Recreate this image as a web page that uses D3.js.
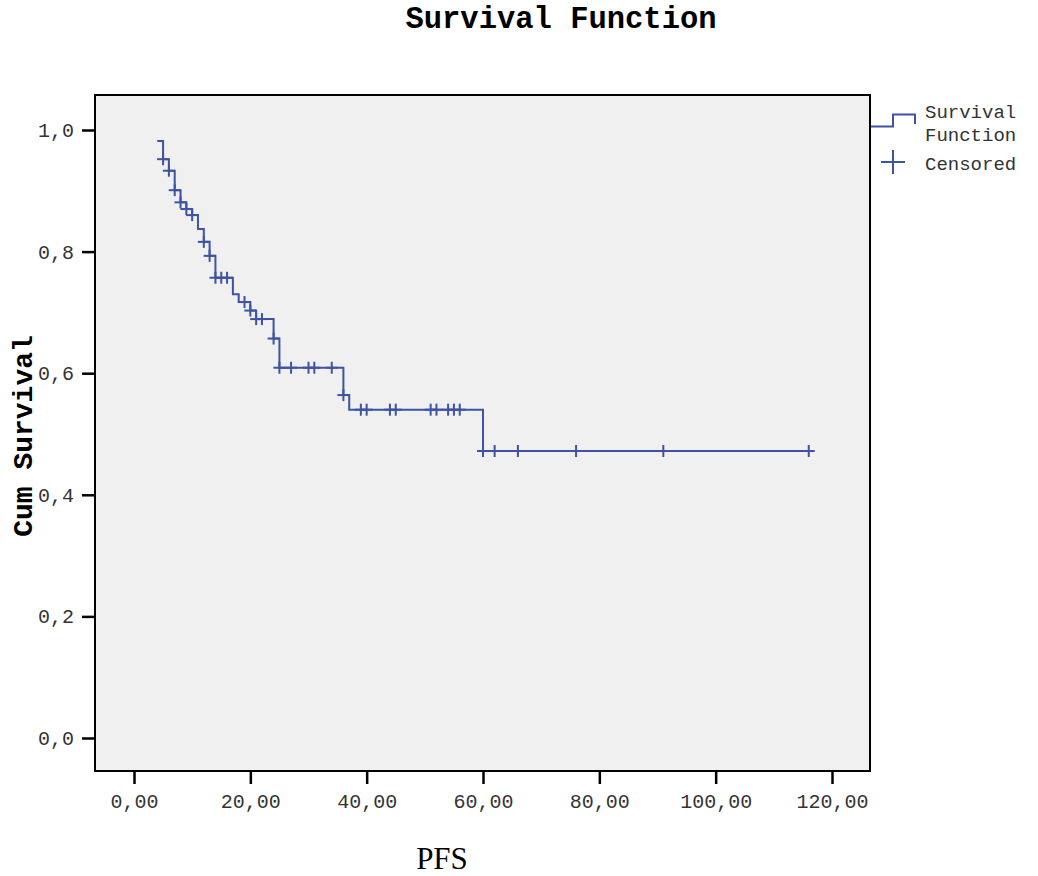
<!DOCTYPE html>
<html>
<head>
<meta charset="utf-8">
<script src="https://cdn.jsdelivr.net/npm/d3@7"></script>
<style>
  body { margin: 0; background: #fff; }
</style>
</head>
<body>
<div id="chart"></div>
<script>
// Kaplan-Meier style survival plot (PFS)

// step points: time of each drop and survival after it
const stepTimes = [4, 5, 6, 7, 8, 9, 10, 11, 12, 13, 14, 17, 18, 20, 21, 24, 25, 36, 37, 60, 116];
const stepSurv = [0.982, 0.952, 0.933, 0.901, 0.881, 0.870, 0.860, 0.837, 0.816, 0.793, 0.757,
  0.730, 0.717, 0.703, 0.689, 0.657, 0.609, 0.564, 0.540, 0.472, 0.472];

// censored observations
const censorTimes = [5, 6, 7, 8, 9, 10, 12, 13, 14, 15, 16, 19, 20, 21, 22, 24, 25, 27, 30, 31, 34,
  36, 39, 40, 44, 45, 51, 52, 54, 55, 56, 60, 62, 66, 76, 91, 116];

const xTicks = [0, 20, 40, 60, 80, 100, 120];
const yTicks = [0, 0.2, 0.4, 0.6, 0.8, 1.0];

const W = 1038, H = 876;
const plotL = 95, plotR = 870, plotT = 95, plotB = 771;
const blue = "#3d53a3";

const svg = d3.select("#chart").append("svg")
  .attr("width", W)
  .attr("height", H);

const xScale = d3.scaleLinear()
  .domain([0, 120])
  .range([134, 832]);

const yScale = d3.scaleLinear()
  .domain([0, 1])
  .range([738, 130]);

// plot background
svg.append("rect")
  .attr("x", plotL)
  .attr("y", plotT)
  .attr("width", plotR - plotL)
  .attr("height", plotB - plotT)
  .attr("fill", "#f0f0f0")
  .attr("stroke", "#000")
  .attr("stroke-width", 2);

// axes
const fmtX = d => d3.format(".2f")(d).replace(".", ",");
const fmtY = d => d3.format(".1f")(d).replace(".", ",");

const xAxis = svg.append("g")
  .attr("transform", `translate(0, ${plotB})`)
  .call(d3.axisBottom(xScale).tickValues(xTicks).tickFormat(fmtX).tickSize(13).tickPadding(10));

const yAxis = svg.append("g")
  .attr("transform", `translate(${plotL}, 0)`)
  .call(d3.axisLeft(yScale).tickValues(yTicks).tickFormat(fmtY).tickSize(13).tickPadding(8));

[xAxis, yAxis].forEach(a => {
  a.select(".domain").remove();
  a.selectAll(".tick line").attr("stroke", "#000").attr("stroke-width", 2.5);
  a.selectAll(".tick text")
    .attr("fill", "#333")
    .style("font-family", "'Liberation Mono', 'Courier New', monospace")
    .style("font-size", "20px");
});

// survival step line
const pts = stepTimes.map((t, i) => [t, stepSurv[i]]);
const line = d3.line()
  .x(d => xScale(d[0]))
  .y(d => yScale(d[1]))
  .curve(d3.curveStepAfter);

svg.append("path")
  .datum(pts)
  .attr("d", line)
  .attr("fill", "none")
  .attr("stroke", blue)
  .attr("stroke-width", 2);

// survival at a given time, read from the step data
const survAt = t => {
  let s = stepSurv[0];
  stepTimes.forEach((st, i) => { if (st <= t) s = stepSurv[i]; });
  return s;
};

const cross = svg.append("g")
  .selectAll("g")
  .data(censorTimes)
  .join("g")
  .attr("transform", d => `translate(${xScale(d)}, ${yScale(survAt(d))})`);

cross.append("line")
  .attr("x1", -6).attr("x2", 6)
  .attr("stroke", blue).attr("stroke-width", 2);
cross.append("line")
  .attr("y1", -6).attr("y2", 6)
  .attr("stroke", blue).attr("stroke-width", 2);

// title and axis labels
svg.append("text")
  .attr("x", 561)
  .attr("y", 28)
  .attr("text-anchor", "middle")
  .style("font-family", "'Liberation Mono', 'Courier New', monospace")
  .style("font-weight", "bold")
  .style("font-size", "30.5px")
  .text("Survival Function");

svg.append("text")
  .attr("transform", "translate(32, 436) rotate(-90)")
  .attr("text-anchor", "middle")
  .style("font-family", "'Liberation Mono', 'Courier New', monospace")
  .style("font-weight", "bold")
  .style("font-size", "28px")
  .text("Cum Survival");

svg.append("text")
  .attr("x", 442)
  .attr("y", 869)
  .attr("text-anchor", "middle")
  .style("font-family", "'Liberation Serif', 'Times New Roman', serif")
  .style("font-size", "31px")
  .text("PFS");

// legend
const legend = svg.append("g");
legend.append("path")
  .attr("d", "M871,126.5 H893 V114.5 H915 V124")
  .attr("fill", "none")
  .attr("stroke", blue)
  .attr("stroke-width", 2);
legend.append("line")
  .attr("x1", 881).attr("x2", 905).attr("y1", 162).attr("y2", 162)
  .attr("stroke", blue).attr("stroke-width", 2);
legend.append("line")
  .attr("x1", 893).attr("x2", 893).attr("y1", 150).attr("y2", 174)
  .attr("stroke", blue).attr("stroke-width", 2);

const legText = [["Survival", 118], ["Function", 141], ["Censored", 170]];
legend.selectAll("text")
  .data(legText)
  .join("text")
  .attr("x", 925)
  .attr("y", d => d[1])
  .attr("fill", "#333")
  .style("font-family", "'Liberation Mono', 'Courier New', monospace")
  .style("font-size", "19px")
  .text(d => d[0]);
</script>
</body>
</html>
